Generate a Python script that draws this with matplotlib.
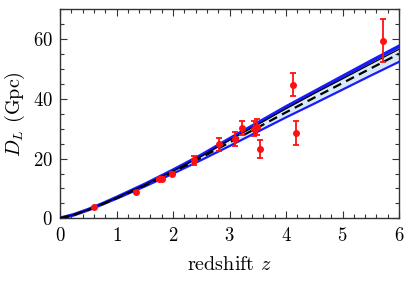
import matplotlib
matplotlib.use("Agg")
import matplotlib.pyplot as plt
from matplotlib.ticker import MultipleLocator

plt.rcParams['font.family'] = ['cmr10', 'DejaVu Serif']
plt.rcParams['mathtext.fontset'] = 'cm'
plt.rcParams['axes.formatter.use_mathtext'] = True

# Model curves
z_curve = [0, 0.25, 0.5, 0.75, 1.0, 1.5, 2.0, 2.5, 3.0, 3.5, 4.0, 4.5, 5.0, 5.5, 6.0]
dl_mid = [0, 1.20, 2.85, 4.75, 6.75, 11.0, 15.5, 20.3, 25.4, 30.4, 35.5, 40.4, 45.3, 50.2, 55.1]
dl_upper = [0, 1.22, 2.90, 4.85, 6.95, 11.35, 16.1, 21.1, 26.6, 31.9, 37.3, 42.4, 47.5, 52.6, 57.6]
dl_solid = [0, 1.21, 2.88, 4.82, 6.88, 11.2, 15.9, 20.8, 26.2, 31.4, 36.7, 41.8, 46.7, 51.7, 56.6]
dl_lower = [0, 1.18, 2.80, 4.65, 6.55, 10.65, 14.95, 19.5, 24.2, 29.0, 33.8, 38.4, 43.1, 47.8, 52.4]

# Data points
z_data = [0.61, 1.34, 1.76, 1.81, 1.99, 2.37, 2.81, 3.10, 3.22, 3.43, 3.48, 3.54, 4.12, 4.18, 5.71]
dl_data = [3.7, 8.7, 13.1, 13.3, 15.0, 19.4, 24.8, 26.5, 30.3, 30.0, 30.6, 23.2, 44.8, 28.6, 59.5]
dl_err = [0.2, 0.3, 0.4, 0.4, 0.6, 1.6, 2.2, 2.3, 2.3, 2.5, 2.6, 3.0, 4.0, 4.0, 7.2]

fig = plt.figure(figsize=(4.07, 2.83), dpi=100)
ax = fig.add_axes([60/407, 64.7/283, 339/407, 209/283])

ax.fill_between(z_curve, dl_lower, dl_upper, color='#d8eaf8', lw=0, zorder=1)
ax.plot(z_curve, dl_upper, color='#1a1aff', lw=2.6, zorder=2)
ax.plot(z_curve, dl_lower, color='#1a1aff', lw=1.6, zorder=2)
ax.plot(z_curve, dl_solid, color='black', lw=0.9, zorder=3)
ax.plot(z_curve, dl_mid, color='black', lw=1.6, ls=(0, (4, 2.5)), zorder=3)

ax.errorbar(z_data, dl_data, yerr=dl_err, fmt='o', color='#ff1010', ms=4,
            elinewidth=1.3, capsize=2.5, capthick=1.3, zorder=5)

ax.set_xlim(0, 6)
ax.set_ylim(0, 70)
ax.xaxis.set_major_locator(MultipleLocator(1))
ax.xaxis.set_minor_locator(MultipleLocator(0.2))
ax.yaxis.set_major_locator(MultipleLocator(20))
ax.yaxis.set_minor_locator(MultipleLocator(5))
ax.tick_params(which='both', direction='in', top=True, right=True, labelsize=13.5,
               color='#333333', width=0.8)
ax.tick_params(which='major', length=5)
ax.tick_params(axis='x', which='major', pad=6)
ax.tick_params(axis='y', which='major', pad=5)
ax.tick_params(which='minor', length=3)
for s in ax.spines.values():
    s.set_color('#333333')
    s.set_linewidth(1.0)

ax.set_xlabel('redshift $z$', fontsize=14.5, labelpad=8)
ax.set_ylabel('$D_L$ (Gpc)', fontsize=14.5, labelpad=4)

fig.savefig('out.png', dpi=100)
